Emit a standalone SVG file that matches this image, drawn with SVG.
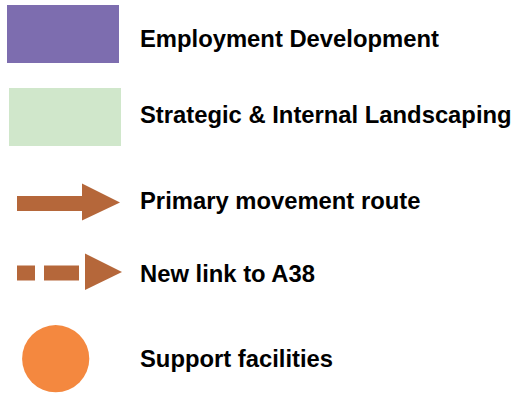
<svg xmlns="http://www.w3.org/2000/svg" width="517" height="394" viewBox="0 0 517 394">
<style>
text{font-family:"Liberation Sans",Arial,sans-serif;font-weight:bold;font-size:23.8px;fill:#000}
.br{fill:#B5673A}
</style>
<rect width="517" height="394" fill="#fff"/>
<g id="employment">
<rect x="7" y="5" width="112" height="58" fill="#7D6DAF"/>
<text x="140" y="46.5">Employment Development</text>
</g>
<g id="landscaping">
<rect x="9" y="88" width="112" height="58" fill="#D0E7CB"/>
<text x="140" y="123">Strategic &amp; Internal Landscaping</text>
</g>
<g id="primary">
<polygon class="br" points="17,196 82,196 82,183.5 120,202.5 82,220.5 82,211 17,211"/>
<text x="140" y="209">Primary movement route</text>
</g>
<g id="newlink">
<rect class="br" x="17" y="265.5" width="18" height="15"/>
<rect class="br" x="44" y="265.5" width="35" height="15"/>
<polygon class="br" points="85,253.5 122,272 85,290"/>
<text x="140" y="282">New link to A38</text>
</g>
<g id="support">
<circle cx="55.7" cy="358.7" r="33.6" fill="#F4883F"/>
<text x="140" y="366.5">Support facilities</text>
</g>
</svg>
